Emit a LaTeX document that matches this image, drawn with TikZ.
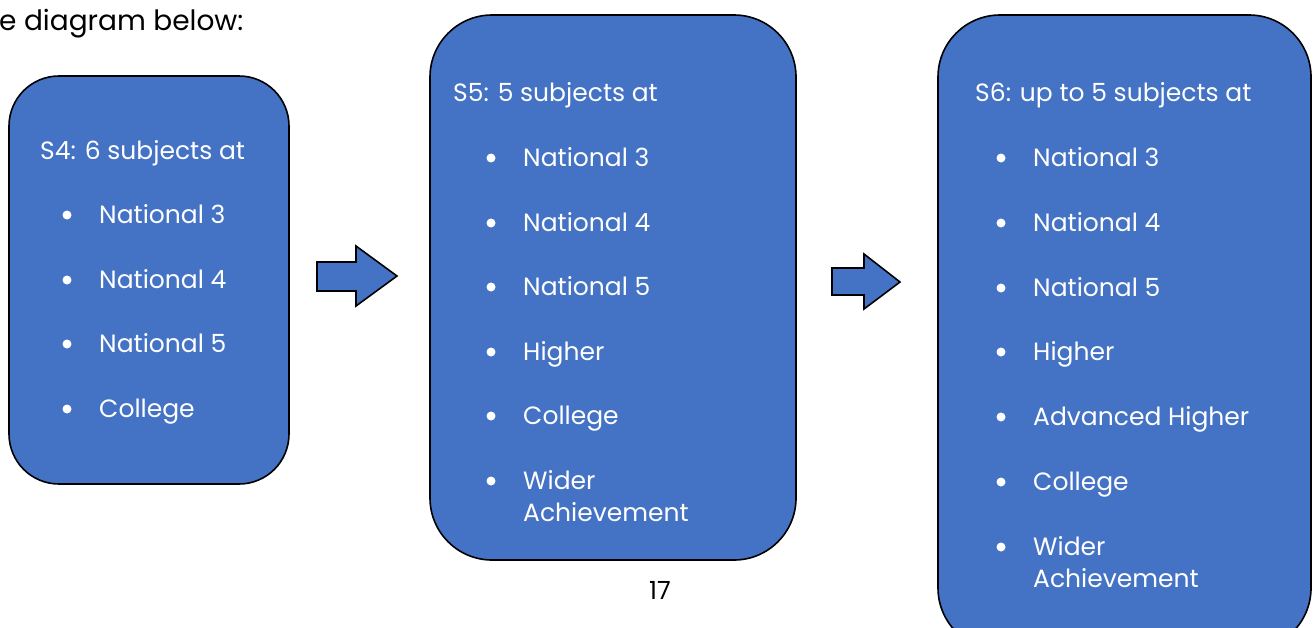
\documentclass[tikz,border=0pt]{standalone}
\usepackage{fontspec}
\setmainfont{Poppins}
\definecolor{boxblue}{HTML}{4472C4}
\tikzset{
  stagebox/.style={fill=boxblue, draw=black, line width=1.6pt},
  blockarrow/.style={fill=boxblue, draw=black, line width=1.6pt, line join=miter},
  itemtext/.style={anchor=base west, inner sep=0pt, text=white, font=\fontsize{25}{29}\selectfont},
  bulletdot/.style={circle, fill=white, inner sep=0pt, minimum size=9pt},
  plaintext/.style={anchor=base west, inner sep=0pt, text=black, font=\fontsize{28}{32}\selectfont},
}
\begin{document}
\begin{tikzpicture}[x=1pt,y=-1pt]
\useasboundingbox (0,0) rectangle (1313,627);
\clip (0,0) rectangle (1313,627);
% header text
\node[plaintext] (hdr) at (-1,30) {e diagram below:};
% boxes
\draw[stagebox, rounded corners=50pt] (9,76) rectangle (289,484);
\draw[stagebox, rounded corners=62pt] (430,15) rectangle (796,560);
\draw[stagebox, rounded corners=62pt] (938,15) rectangle (1311,650);
% arrows
\draw[blockarrow] (317,262) -- (356,262) -- (356,246) -- (397,276) -- (356,306) -- (356,291) -- (317,291) -- cycle;
\draw[blockarrow] (832,268) -- (864,268) -- (864,254) -- (900,282) -- (864,309) -- (864,295) -- (832,295) -- cycle;
% box 1
\node[itemtext] (t1) at (40,159) {S4: 6 subjects at};
\foreach \y/\t [count=\i] in {214/National 3, 279/National 4, 343/National 5, 408/College}{
  \node[bulletdot] (b1\i) at (67,\y+1) {};
  \node[itemtext] (a1\i) at (99,\y+9) {\t};
}
% box 2
\node[itemtext] (t2) at (453,101) {S5: 5 subjects at};
\foreach \y/\t [count=\i] in {157/National 3, 222/National 4, 286/National 5, 351/Higher, 415/College, 480/Wider}{
  \node[bulletdot] (b2\i) at (491,\y+1) {};
  \node[itemtext] (a2\i) at (523,\y+9) {\t};
}
\node[itemtext] (a27) at (523,521) {Achievement};
% box 3
\node[itemtext] (t3) at (975,101) {S6: up to 5 subjects at};
\foreach \y/\t [count=\i] in {157/National 3, 222/National 4, 287/National 5, 351/Higher, 416/Advanced Higher, 481/College, 546/Wider}{
  \node[bulletdot] (b3\i) at (1001,\y+1) {};
  \node[itemtext] (a3\i) at (1033,\y+9) {\t};
}
\node[itemtext] (a38) at (1033,587) {Achievement};
% page number
\node[plaintext, anchor=base, font=\fontsize{25}{29}\selectfont] (pg) at (660,599) {17};
\end{tikzpicture}
\end{document}
